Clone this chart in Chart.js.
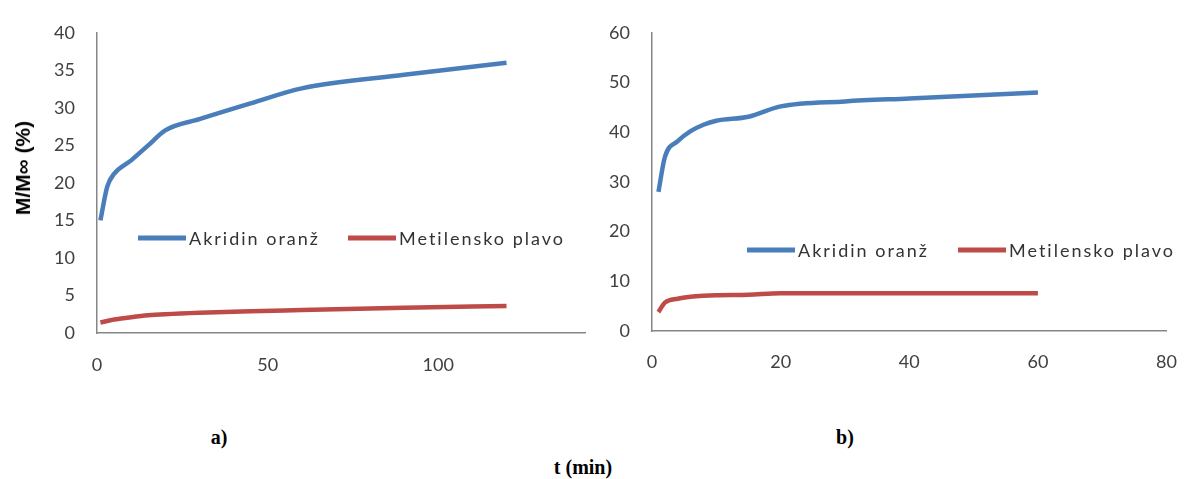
<!DOCTYPE html>
<html><head><meta charset="utf-8">
<script src="https://cdn.jsdelivr.net/npm/chart.js@4/dist/chart.umd.min.js"></script>
<style>
html,body{margin:0;padding:0;background:#fff;width:1197px;height:479px;overflow:hidden;position:relative}
.box{position:absolute;top:0;height:400px}
#boxA{left:0;width:595px}
#boxB{left:595px;width:602px}
.lbl{position:absolute;font-family:"Liberation Serif","Times New Roman",serif;font-weight:bold;font-size:20px;color:#000;transform:translate(-50%,-50%);white-space:nowrap}
#ytitle{position:absolute;left:23px;top:168px;transform:translate(-50%,-50%) rotate(-90deg);font-family:"Liberation Sans",Arial,sans-serif;font-weight:bold;font-size:21px;color:#000;white-space:nowrap}
</style></head><body>
<div class="box" id="boxA"><canvas id="cA" width="595" height="400"></canvas></div>
<div class="box" id="boxB"><canvas id="cB" width="602" height="400"></canvas></div>
<div id="ytitle">M/M∞ (%)</div>
<div class="lbl" style="left:219px;top:437px">a)</div>
<div class="lbl" style="left:845px;top:437px">b)</div>
<div class="lbl" style="left:583px;top:467px">t (min)</div>
<script>
// ---- data ----
const seriesNames = ["Akridin oranž", "Metilensko plavo"];
// panel a)
const timeA = [1, 3, 5, 10, 15, 20, 30, 45, 60, 90, 120];
const akridinA = [15, 19.5, 21.2, 23, 25, 27, 28.5, 30.6, 32.6, 34.4, 36];
const metilenA = [1.4, 1.6, 1.8, 2.1, 2.35, 2.5, 2.7, 2.9, 3.05, 3.35, 3.6];
const xTicksA = [0, 50, 100];
// panel b)
const timeB = [1, 2, 4, 6, 8, 10, 15, 20, 30, 40, 50, 60];
const akridinB = [28, 35, 38.2, 40.2, 41.5, 42.3, 43.1, 45.2, 46.2, 46.8, 47.4, 48];
const metilenB = [3.8, 5.7, 6.5, 6.9, 7.1, 7.2, 7.3, 7.6, 7.6, 7.6, 7.6, 7.6];
const xTicksB = [0, 20, 40, 60, 80];

const BLUE = "#4A7EBB", RED = "#BE4B48";
const TICK_FONT = {family: "Lato", size: 18};
const TICK_COLOR = "#404040";
const AXIS_COLOR = "#868686";

const inlineLegend = {
  id: "inlineLegend",
  afterDatasetsDraw(chart, args, opts) {
    const ctx = chart.ctx;
    ctx.save();
    chart.data.datasets.forEach((ds, i) => {
      const it = opts.items[i];
      ctx.strokeStyle = ds.borderColor;
      ctx.lineWidth = opts.lineWidth;
      ctx.lineCap = "butt";
      ctx.beginPath();
      ctx.moveTo(it, opts.y);
      ctx.lineTo(it + opts.lineLength, opts.y);
      ctx.stroke();
      ctx.fillStyle = opts.color;
      ctx.font = opts.font;
      if ("letterSpacing" in ctx) ctx.letterSpacing = opts.spacing;
      ctx.textBaseline = "middle";
      ctx.textAlign = "left";
      ctx.fillText(ds.label, it + opts.lineLength + opts.gap, opts.y + 1);
    });
    ctx.restore();
  }
};

function toPts(t, v) { return t.map((x, i) => ({x: x, y: v[i]})); }

function makeChart(id, t, s1, s2, cfg) {
  return new Chart(document.getElementById(id), {
    type: "line",
    data: {
      datasets: [
        {label: seriesNames[0], data: toPts(t, s1), borderColor: BLUE, borderWidth: 4.5, pointRadius: 0, cubicInterpolationMode: "monotone", fill: false},
        {label: seriesNames[1], data: toPts(t, s2), borderColor: RED, borderWidth: 4.5, pointRadius: 0, cubicInterpolationMode: "monotone", fill: false}
      ]
    },
    options: {
      responsive: false,
      animation: false,
      events: [],
      layout: {padding: cfg.padding},
      plugins: {
        legend: {display: false},
        tooltip: {enabled: false},
        inlineLegend: cfg.legend
      },
      scales: {
        x: {
          type: "linear", min: 0, max: cfg.xMax,
          ticks: {stepSize: cfg.xStep, padding: cfg.xPad, color: TICK_COLOR, font: TICK_FONT, maxRotation: 0},
          afterBuildTicks: s => { s.ticks = cfg.xTicks.map(v => ({value: v})); },
          afterFit: s => { s.height = cfg.xH; },
          grid: {display: false, drawTicks: false},
          border: {display: true, color: AXIS_COLOR, width: 1.5}
        },
        y: {
          min: 0, max: cfg.yMax,
          ticks: {stepSize: cfg.yStep, padding: 22, color: TICK_COLOR, font: TICK_FONT},
          afterFit: s => { s.width = cfg.yW; },
          grid: {display: false, drawTicks: false},
          border: {display: true, color: AXIS_COLOR, width: 1.5}
        }
      }
    },
    plugins: [inlineLegend]
  });
}

makeChart("cA", timeA, akridinA, metilenA, {
  padding: {top: 23, right: 10, left: 0, bottom: 0},
  xMax: 143, xStep: 50, xTicks: xTicksA, xPad: 21, xH: 67, yMax: 40, yStep: 5, yW: 97,
  legend: {items: [138, 348], y: 238, lineLength: 48, gap: 3, lineWidth: 5, color: "#333", font: "18px Lato", spacing: "2px"}
});
makeChart("cB", timeB, akridinB, metilenB, {
  padding: {top: 28, right: 14, left: 0, bottom: 0},
  xMax: 80, xStep: 20, xTicks: xTicksB, xPad: 20, xH: 69, yMax: 60, yStep: 10, yW: 57,
  legend: {items: [152, 363], y: 250, lineLength: 48, gap: 3, lineWidth: 5, color: "#333", font: "18px Lato", spacing: "2px"}
});
</script>
</body></html>
